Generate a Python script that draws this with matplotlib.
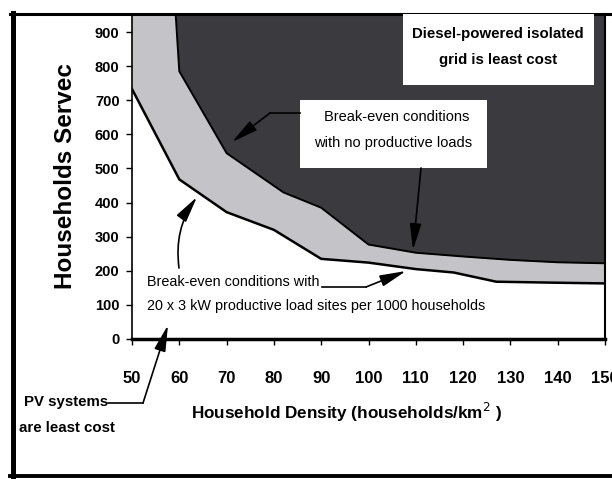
import matplotlib
matplotlib.use("Agg")
import matplotlib.pyplot as plt
from matplotlib import font_manager
from matplotlib.transforms import Affine2D
from matplotlib.patches import Rectangle
from matplotlib.lines import Line2D

# ---- data ----
x_ticks = [50, 60, 70, 80, 90, 100, 110, 120, 130, 140, 150]
y_ticks = [0, 100, 200, 300, 400, 500, 600, 700, 800, 900]

# lower break-even curve (20 x 3 kW productive loads per 1000 households)
lower_x = [50, 60, 70, 80, 90, 100, 110, 118, 127, 140, 150]
lower_y = [733, 468, 372, 320, 235, 224, 205, 195, 168, 165, 163]

# upper break-even curve (no productive loads)
upper_x = [59.2, 60, 70, 82, 90, 100, 110, 120, 130, 140, 150]
upper_y = [960, 785, 545, 430, 385, 277, 253, 242, 232, 225, 222]

W, H = 612, 479
names = {f.name for f in font_manager.fontManager.ttflist}
BASE = "Liberation Sans" if "Liberation Sans" in names else "DejaVu Sans"
plt.rcParams['font.family'] = [BASE, 'DejaVu Sans']

fig = plt.figure(figsize=(W / 100, H / 100), dpi=100)
fig.patch.set_facecolor('white')
# pixel transform (origin top-left)
tr = Affine2D().scale(1 / W, -1 / H).translate(0, 1) + fig.transFigure

ax_l, ax_r, ax_t, ax_b = 132, 605, 14, 339
ax = fig.add_axes([ax_l / W, (H - ax_b) / H, (ax_r - ax_l) / W, (ax_b - ax_t) / H])
ax.set_xlim(50, 150)
ax.set_ylim(0, 953)
ax.set_facecolor('white')

LIGHT = '#c4c4c8'
DARK = '#3b3b3f'
ax.fill_between(lower_x, lower_y, 1000, color=LIGHT, lw=0, zorder=1)
ax.fill_between(upper_x, upper_y, 1000, color=DARK, lw=0, zorder=2)
ax.plot(lower_x, lower_y, color='black', lw=1.8, zorder=3, solid_joinstyle='miter')
ax.plot(upper_x, upper_y, color='black', lw=1.4, zorder=3, solid_joinstyle='miter')

ax.set_xticks(x_ticks)
ax.set_yticks(y_ticks)
ax.set_xticklabels([str(v) for v in x_ticks], fontsize=12, fontweight='bold')
ax.set_yticklabels([str(v) for v in y_ticks], fontsize=10.5, fontweight='bold')
ax.tick_params(axis='x', direction='out', length=4, width=1, pad=19)
ax.tick_params(axis='y', direction='out', length=4, width=1, pad=5)

ax.spines['left'].set_linewidth(1.2)
ax.spines['bottom'].set_linewidth(2.5)
ax.spines['right'].set_linewidth(1.5)
ax.spines['top'].set_linewidth(2.0)

# axis labels
fig.text(66, 176, "Households Servec", transform=tr, rotation=90, ha='center', va='center',
         fontsize=17.5, fontweight='bold')
fig.text(347, 412, "Household Density (households/km$^2$ )", transform=tr, ha='center', va='center',
         fontsize=12.3, fontweight='bold')

# Diesel box
fig.add_artist(Rectangle((403, 14), 191, 71, transform=tr, facecolor='white', edgecolor='none', zorder=5))
fig.text(498, 34, "Diesel-powered isolated", transform=tr, ha='center', va='center',
         fontsize=10.8, fontweight='bold', zorder=6)
fig.text(498, 60, "grid is least cost", transform=tr, ha='center', va='center',
         fontsize=10.8, fontweight='bold', zorder=6)

# Break-even (no productive loads) box
fig.add_artist(Rectangle((300, 100), 187, 68, transform=tr, facecolor='white', edgecolor='none', zorder=5))
fig.text(397, 117, "Break-even conditions", transform=tr, ha='center', va='center', fontsize=10.5, zorder=6)
fig.text(393, 143, "with no productive loads", transform=tr, ha='center', va='center', fontsize=10.5, zorder=6)

AP = dict(arrowstyle='-|>,head_length=1.6,head_width=0.35', color='black', lw=1.2,
          shrinkA=0, shrinkB=0, mutation_scale=10)

def leader(pts):
    xs = [p[0] for p in pts]
    ys = [p[1] for p in pts]
    fig.add_artist(Line2D(xs, ys, transform=tr, color='black', lw=1.2, zorder=7))

def arrow(start, tip, cs='arc3'):
    a = dict(AP)
    a['connectionstyle'] = cs
    fig.add_artist(plt.Annotation('', xy=tip, xycoords=tr, xytext=start, textcoords=tr,
                                  arrowprops=a, zorder=7))

leader([(300, 113), (270, 113)])
arrow((270, 113), (232, 142))
arrow((421, 168), (413, 250))

# Break-even with productive loads text
fig.text(147, 282, "Break-even conditions with", transform=tr, ha='left', va='center', fontsize=10.4, zorder=6)
fig.text(147, 306, "20 x 3 kW productive load sites per 1000 households", transform=tr,
         ha='left', va='center', fontsize=10.4, zorder=6)
arrow((179, 268), (197, 197), 'arc3,rad=-0.2')
leader([(322, 287), (366, 287)])
arrow((366, 287), (406, 271))

# PV systems
fig.text(66, 402, "PV systems", transform=tr, ha='center', va='center', fontsize=10.8, fontweight='bold')
fig.text(67, 428, "are least cost", transform=tr, ha='center', va='center', fontsize=10.8, fontweight='bold')
leader([(108, 403), (143, 403)])
arrow((143, 403), (168, 325))

# outer frame
fig.add_artist(Line2D([12.5, 12.5], [13, 478], transform=tr, color='black', lw=3.6))
fig.add_artist(Line2D([10, 612], [14.5, 14.5], transform=tr, color='black', lw=2.2))
fig.add_artist(Line2D([10, 612], [476.5, 476.5], transform=tr, color='black', lw=2.8))

fig.savefig('out.png', dpi=100, facecolor='white')
